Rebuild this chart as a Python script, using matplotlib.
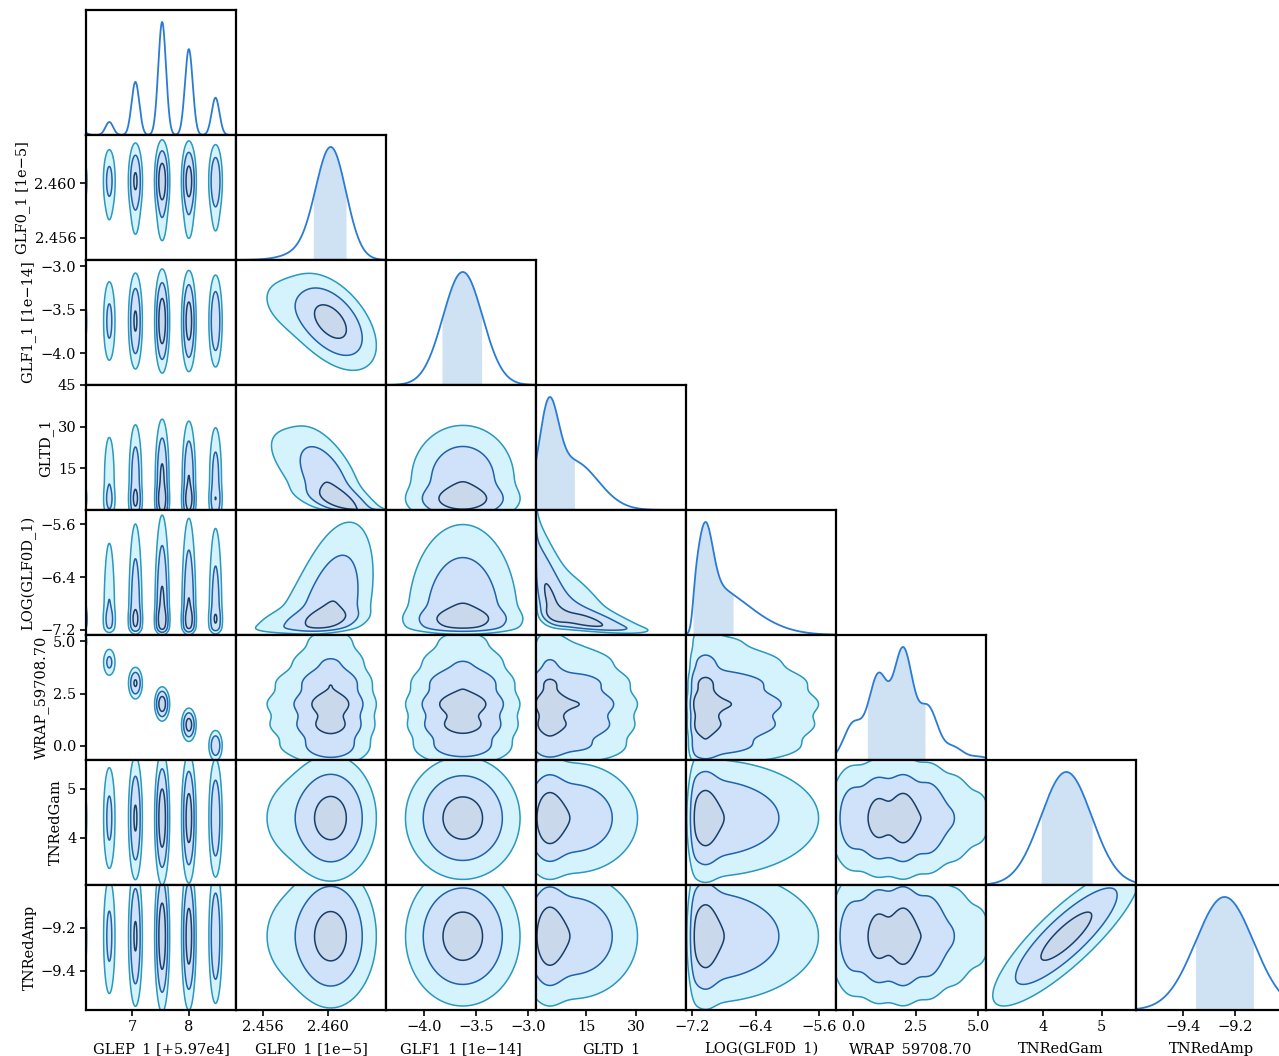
import math
import numpy as np
import matplotlib
matplotlib.use("Agg")
import matplotlib.pyplot as plt

plt.rcParams["font.family"] = ["DejaVu Serif"]

# ---------------------------------------------------------------- parameters
labels = ["GLEP_1 [+5.97e4]", "GLF0_1 [1e\u22125]", "GLF1_1 [1e\u221214]", "GLTD_1",
          "LOG(GLF0D_1)", "WRAP_59708.70", "TNRedGam", "TNRedAmp"]
axis_limits = [(6.19, 8.83), (2.45434, 2.46357), (-4.368, -2.926), (0.0, 45.0),
               (-7.276, -5.388), (-0.69, 5.31), (3.04, 5.58), (-9.583, -9.002)]

ytick_values = [[], [2.456, 2.460], [-4.0, -3.5, -3.0], [15, 30, 45],
                [-7.2, -6.4, -5.6], [0.0, 2.5, 5.0], [4, 5], [-9.4, -9.2]]
ytick_text = [[], ["2.456", "2.460"], ["\u22124.0", "\u22123.5", "\u22123.0"], ["15", "30", "45"],
              ["\u22127.2", "\u22126.4", "\u22125.6"], ["0.0", "2.5", "5.0"], ["4", "5"],
              ["\u22129.4", "\u22129.2"]]
xtick_values = [[7, 8], [2.456, 2.460], [-4.0, -3.5, -3.0], [15, 30],
                [-7.2, -6.4, -5.6], [0.0, 2.5, 5.0], [4, 5], [-9.4, -9.2]]
xtick_text = [["7", "8"], ["2.456", "2.460"], ["\u22124.0", "\u22123.5", "\u22123.0"], ["15", "30"],
              ["\u22127.2", "\u22126.4", "\u22125.6"], ["0.0", "2.5", "5.0"], ["4", "5"],
              ["\u22129.4", "\u22129.2"]]

# phase-wrap modes: each WRAP value pairs with one GLEP mode
wrap_values = [0, 1, 2, 3, 4, 5]
glep_modes = [8.47, 8.00, 7.53, 7.06, 6.60, 6.13]
mode_weights = [0.33, 0.76, 1.00, 0.47, 0.115, 0.03]

# unimodal parameters as sums of Gaussian bumps (centre, width, peak height)
bump_centres = [None, [2.4602, 2.4591], [-3.63], [3.8, 11.0], [-7.03, -7.05],
                None, [4.40], [-9.24]]
bump_widths = [None, [0.00092, 0.0014], [0.19], [2.8, 7.5], [0.09, 0.52],
               None, [0.43], [0.112]]
bump_heights = [None, [1.0, 0.10], [1.0], [1.0, 0.60], [0.55, 0.47],
                None, [1.0], [1.0]]
# lower edges (position, softness); GLTD is cut sharply at zero
lower_edge = [None, None, None, (0.0, 0.0), (-7.19, 0.02), None, None, None]

# correlations of the latent normals (Gaussian copula)
latent_corr = {(1, 2): -0.50, (1, 3): -0.68, (1, 4): 0.45, (3, 4): -0.75, (6, 7): 0.85}

# ---------------------------------------------------------------- style
fill_colours = ["#d5f3fc", "#cfe2f9", "#c9d8ea"]
line_colours = ["#2b98bf", "#1f63ab", "#183f6c"]
diag_line = "#2a7bd6"
diag_fill = "#cfe2f3"
credible_mass = [0.985, 0.865, 0.393]
glep_spread_1d, glep_spread_2d = 0.068, 0.042
wrap_spread_1d, wrap_spread_joint = 0.38, 0.26
FS = 10.5

W_PX, H_PX = 1279, 1056
X0, Y0, CW, CH = 86, 10, 150, 125
n_par = len(labels)

z_tab = np.linspace(-7.5, 7.5, 3001)
phi_tab = 0.5 * (1 + np.vectorize(math.erf)(z_tab / math.sqrt(2)))


def gauss(x, m, s):
    return np.exp(-0.5 * ((x - m) / s) ** 2) / s


def bumps(k, x):
    d = sum(h * np.exp(-0.5 * ((x - c) / w) ** 2)
            for c, w, h in zip(bump_centres[k], bump_widths[k], bump_heights[k]))
    if lower_edge[k] is not None:
        pos, soft = lower_edge[k]
        if soft == 0:
            d = np.where(x >= pos, d, 0.0)
        else:
            d = d / (1 + np.exp(-(x - pos) / soft))
    return d


def span_of(k, pad=0.3):
    lo, hi = axis_limits[k]
    s = hi - lo
    lo, hi = lo - pad * s, hi + pad * s
    if lower_edge[k] is not None and lower_edge[k][1] == 0:
        lo = max(lo, lower_edge[k][0])
    return lo, hi


# tabulated density and cdf of every unimodal parameter
tables = {}
for k in range(n_par):
    if bump_centres[k] is None:
        continue
    xt = np.linspace(*span_of(k, 1.0), 8000)
    ft = bumps(k, xt)
    cdf = np.cumsum(ft)
    norm = cdf[-1] * (xt[1] - xt[0])
    tables[k] = (xt, ft / norm, cdf / cdf[-1])


def marginal(k, x, two_d=True):
    if k == 0:
        s = glep_spread_2d if two_d else glep_spread_1d
        return sum(w * gauss(x, m, s) for m, w in zip(glep_modes, mode_weights))
    if k == 5:
        return sum(w * gauss(x, m, wrap_spread_1d) for m, w in zip(wrap_values, mode_weights))
    xt, ft, _ = tables[k]
    return np.interp(x, xt, ft, left=0.0, right=0.0)


def to_latent(k, x):
    xt, _, cdf = tables[k]
    u = np.clip(np.interp(x, xt, cdf), 1e-11, 1 - 1e-11)
    return np.interp(u, phi_tab, z_tab)


def joint(px, py, X, Y):
    if (px, py) == (0, 5):
        return sum(w * gauss(X, g, glep_spread_2d) * gauss(Y, v, wrap_spread_joint)
                   for g, v, w in zip(glep_modes, wrap_values, mode_weights))
    base = marginal(px, X) * marginal(py, Y)
    rho = latent_corr.get((px, py), latent_corr.get((py, px), 0.0))
    if rho == 0.0:
        return base
    zx, zy = to_latent(px, X), to_latent(py, Y)
    q = (rho ** 2 * (zx ** 2 + zy ** 2) - 2 * rho * zx * zy) / (2 * (1 - rho ** 2))
    return base * np.exp(-q) / math.sqrt(1 - rho ** 2)


def thresholds(d):
    flat = np.sort(d.ravel())[::-1]
    cum = np.cumsum(flat)
    cum /= cum[-1]
    return [flat[min(np.searchsorted(cum, m), flat.size - 1)] for m in credible_mass]


def shortest_interval(x, d, mass=0.683):
    cdf = np.cumsum(d)
    cdf /= cdf[-1]
    j = np.searchsorted(cdf, cdf + mass)
    i = np.arange(x.size)
    ok = j < x.size
    widths = x[j[ok]] - x[i[ok]]
    b = np.argmin(widths)
    return x[i[ok][b]], x[j[ok][b]]


fig = plt.figure(figsize=(W_PX / 100, H_PX / 100), dpi=100)

for row in range(n_par):
    for col in range(row + 1):
        ax = fig.add_axes([(X0 + CW * col) / W_PX, 1 - (Y0 + CH * (row + 1)) / H_PX,
                           CW / W_PX, CH / H_PX])
        if row == col:
            xs = np.linspace(*span_of(col), 3000)
            d = marginal(col, xs, two_d=False)
            inside = (xs >= axis_limits[col][0]) & (xs <= axis_limits[col][1])
            if col != 0:
                lo, hi = shortest_interval(xs, d)
                ax.fill_between(xs, 0, d, where=(xs >= lo) & (xs <= hi),
                                color=diag_fill, lw=0)
            ax.plot(xs, d, color=diag_line, lw=1.3)
            ax.set_ylim(0, d[inside].max() * 1.106)
        else:
            nx = 700 if col == 0 else 330
            xs = np.linspace(*span_of(col), nx)
            ys = np.linspace(*span_of(row), 330)
            X, Y = np.meshgrid(xs, ys)
            d = joint(col, row, X, Y)
            t = thresholds(d)
            ax.contourf(xs, ys, d, levels=t + [d.max() * 1.01], colors=fill_colours)
            ax.contour(xs, ys, d, levels=t, colors=line_colours, linewidths=1.1)
            ax.set_ylim(*axis_limits[row])
        ax.set_xlim(*axis_limits[col])

        for sp in ax.spines.values():
            sp.set_linewidth(1.6)
            sp.set_color("black")
        ax.tick_params(direction="out", length=4, width=1.2, labelsize=FS, pad=3)
        if row == n_par - 1:
            ax.set_xticks(xtick_values[col])
            ax.set_xticklabels(xtick_text[col])
            ax.set_xlabel(labels[col], fontsize=FS, labelpad=6)
        else:
            ax.set_xticks([])
        if col == 0 and row > 0:
            ax.set_yticks(ytick_values[row])
            ax.set_yticklabels(ytick_text[row])
            ax.set_ylabel(labels[row], fontsize=FS, labelpad=3)
        else:
            ax.set_yticks([])

fig.savefig("out.png", dpi=100)
